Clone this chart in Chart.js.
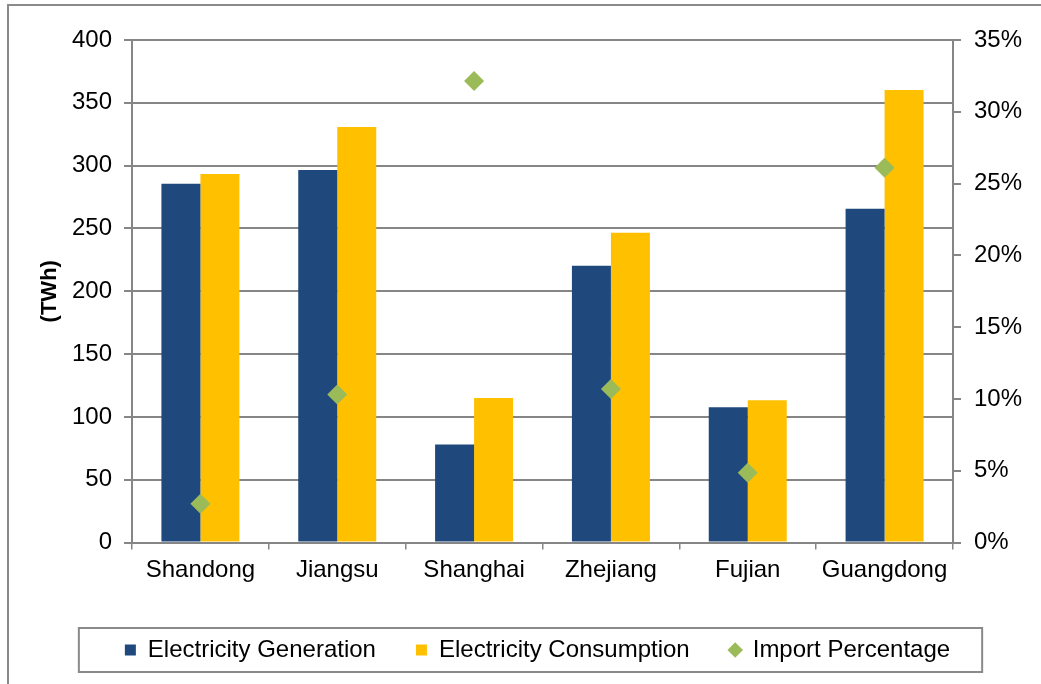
<!DOCTYPE html>
<html>
<head>
<meta charset="utf-8">
<script src="https://cdn.jsdelivr.net/npm/chart.js@4"></script>
<style>
  html, body { margin: 0; padding: 0; background: #fff; }
  #wrap { width: 1041px; height: 684px; }
</style>
</head>
<body>
<div id="wrap"><canvas id="myChart" width="1041" height="684"></canvas></div>
<script>
// chart data
const provinces = ['Shandong', 'Jiangsu', 'Shanghai', 'Zhejiang', 'Fujian', 'Guangdong'];
const generation = [285.5, 296.6, 78, 220.3, 107.6, 265.6];      // TWh
const consumption = [293.4, 330.8, 115, 246.5, 113.2, 360.2];     // TWh
const importPct = [2.7, 10.3, 32.15, 10.7, 4.85, 26.1];           // %
const seriesNames = ['Electricity Generation', 'Electricity Consumption', 'Import Percentage'];

const FONT = "'Liberation Sans', Arial, sans-serif";
const GRID = '#868686';

// outer frame + legend frame
const framePlugin = {
    id: 'frames',
    beforeDraw(chart) {
        const ctx = chart.ctx;
        ctx.save();
        ctx.fillStyle = '#fff';
        ctx.fillRect(0, 0, chart.width, chart.height);
        ctx.strokeStyle = '#8a8a8a';
        ctx.lineWidth = 2;
        ctx.strokeRect(8, 5, chart.width + 20, chart.height + 20);
        ctx.restore();
    },
    afterDraw(chart) {
        const lg = chart.legend;
        if (!lg || !lg.legendHitBoxes.length) return;
        const boxes = lg.legendHitBoxes;
        const left = boxes[0].left - 46;
        const right = boxes[boxes.length - 1].left + boxes[boxes.length - 1].width + 32;
        const midY = boxes[0].top + boxes[0].height / 2;
        const ctx = chart.ctx;
        ctx.save();
        ctx.strokeStyle = '#8a8a8a';
        ctx.lineWidth = 2;
        ctx.strokeRect(left, midY - 22, right - left, 44);
        ctx.restore();
    }
};

new Chart(document.getElementById('myChart').getContext('2d'), {
    data: {
        labels: provinces,
        datasets: [
            {
                type: 'line',
                label: seriesNames[2],
                data: importPct,
                yAxisID: 'y1',
                showLine: false,
                pointStyle: 'rectRot',
                pointRadius: 10,
                pointBackgroundColor: '#9BBB59',
                pointBorderColor: '#9BBB59',
                pointBorderWidth: 0,
                order: -1
            },
            {
                type: 'bar',
                label: seriesNames[0],
                data: generation,
                yAxisID: 'y',
                backgroundColor: '#1F497D',
                categoryPercentage: 0.57,
                barPercentage: 1.0
            },
            {
                type: 'bar',
                label: seriesNames[1],
                data: consumption,
                yAxisID: 'y',
                backgroundColor: '#FFC000',
                categoryPercentage: 0.57,
                barPercentage: 1.0
            }
        ]
    },
    options: {
        responsive: false,
        animation: false,
        layout: { padding: { top: 40, left: 34, right: 0, bottom: 12 } },
        plugins: {
            tooltip: { enabled: false },
            legend: {
                position: 'bottom',
                labels: {
                    font: { family: FONT, size: 24 },
                    color: '#000',
                    usePointStyle: true,
                    boxWidth: 11,
                    boxHeight: 11,
                    padding: 40,
                    generateLabels(chart) {
                        const ds = chart.data.datasets;
                        const order = [1, 2, 0];
                        return order.map(i => ({
                            text: ds[i].label,
                            fillStyle: ds[i].type === 'line' ? ds[i].pointBackgroundColor : ds[i].backgroundColor,
                            strokeStyle: 'rgba(0,0,0,0)',
                            lineWidth: 0,
                            pointStyle: ds[i].type === 'line' ? 'rectRot' : 'rect',
                            hidden: false,
                            datasetIndex: i,
                            fontColor: '#000'
                        }));
                    }
                }
            }
        },
        scales: {
            x: {
                grid: {
                    drawOnChartArea: false,
                    drawTicks: true,
                    tickLength: 7,
                    color: GRID,
                    lineWidth: 1.5
                },
                border: { color: GRID, width: 2 },
                ticks: { font: { family: FONT, size: 24 }, color: '#000', padding: 6, maxRotation: 0 },
                afterFit(scale) { scale.height = 55.5; }
            },
            y: {
                position: 'left',
                min: 0,
                max: 400,
                ticks: { stepSize: 50, font: { family: FONT, size: 24 }, color: '#000', padding: 12 },
                grid: { color: GRID, lineWidth: 2, tickLength: 8 },
                border: { color: GRID, width: 2 },
                title: {
                    display: true,
                    text: '(TWh)',
                    font: { family: FONT, size: 22, weight: 'bold' },
                    color: '#000',
                    padding: { top: 3, bottom: 0 }
                },
                afterFit(scale) { scale.width = 98; }
            },
            y1: {
                position: 'right',
                min: 0,
                max: 35,
                ticks: {
                    stepSize: 5,
                    font: { family: FONT, size: 24 },
                    color: '#000',
                    padding: 13,
                    callback: v => v + '%'
                },
                grid: { drawOnChartArea: false, color: GRID, lineWidth: 2, tickLength: 8 },
                border: { color: GRID, width: 2 },
                afterFit(scale) { scale.width = 88; }
            }
        }
    },
    plugins: [framePlugin]
});
</script>
</body>
</html>
